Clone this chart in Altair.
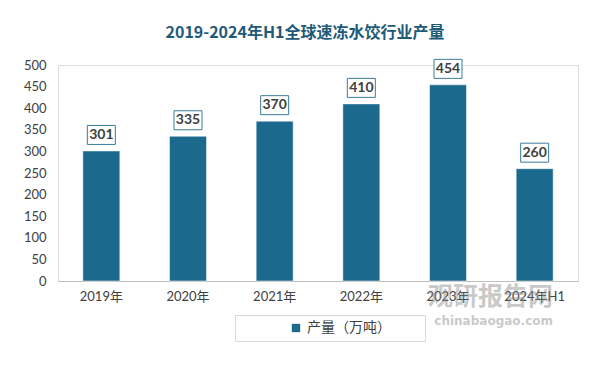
import altair as alt
import pandas as pd

years = ["2019年", "2020年", "2021年", "2022年", "2023年", "2024年H1"]
output = [301, 335, 370, 410, 454, 260]
series_name = "产量（万吨）"

df = pd.DataFrame({"year": years, "value": output, "series": [series_name] * len(years)})

BAR = "#1b6a8e"
FONT = "Lato, Noto Sans CJK SC, sans-serif"

x_axis = alt.Axis(labelAngle=0, labelFont=FONT, labelFontSize=13, labelColor="#404040",
                  labelPadding=9, ticks=False, domainColor="#bfbfbf", domainWidth=1,
                  labelOverlap=False)
y_axis = alt.Axis(values=list(range(0, 501, 50)), labelFont=FONT, labelFontSize=13,
                  labelColor="#404040", labelPadding=12, ticks=False, domain=False, grid=False,
                  labelOverlap=False)
x = alt.X("year:N", sort=years, title=None, axis=x_axis)
y = alt.Y("value:Q", title=None, scale=alt.Scale(domain=[0, 500]), axis=y_axis)

bars = alt.Chart(df).mark_bar(size=37, stroke="#ffffff", strokeWidth=0.5).encode(
    x=x, y=y,
    color=alt.Color("series:N",
                    scale=alt.Scale(domain=[series_name, "\u3000"], range=[BAR, "transparent"]),
                    legend=alt.Legend(title=None, orient="none", legendX=177, legendY=250,
                                      direction="horizontal", columnPadding=-38, gridAlign="none",
                                      symbolType="square", symbolSize=70, symbolStrokeWidth=0,
                                      labelFont=FONT, labelFontSize=14, labelColor="#404040",
                                      padding=6, symbolOffset=48,
                                      strokeColor="#d9d9d9", fillColor="#ffffff"))
)

boxes = alt.Chart(df).mark_rect(width=28, height=19, yOffset=-16, fill="#ffffff",
                                stroke="#3b7d9a", strokeWidth=1).encode(x=x, y=y)

labels = alt.Chart(df).mark_text(dy=-16, baseline="middle", fontWeight="bold", fontSize=14,
                                 font=FONT, color="#404040").encode(
    x=x, y=y, text="value:Q")

wm1 = alt.Chart(pd.DataFrame({"t": ["观研报告网"]})).mark_text(
    font="Noto Sans CJK SC", fontWeight="bold", fontSize=25, color="#8a8a8a", opacity=0.45,
    align="right", baseline="middle").encode(x=alt.value(495), y=alt.value(232), text="t:N")
wm2 = alt.Chart(pd.DataFrame({"t": ["chinabaogao.com"]})).mark_text(
    font="DejaVu Sans", fontWeight="bold", fontSize=12, color="#8a8a8a", opacity=0.45,
    align="right", baseline="middle").encode(x=alt.value(495), y=alt.value(256), text="t:N")

chart = alt.layer(bars, boxes, labels, wm1, wm2).properties(
    width=520, height=216,
    title=alt.TitleParams("2019-2024年H1全球速冻水饺行业产量", font="Noto Sans CJK SC",
                          fontSize=16, fontWeight="bold", color="#215a78", anchor="middle",
                          dx=-13, offset=18),
    autosize=alt.AutoSizeParams(type="none"),
    padding={"left": 50, "top": 57, "right": 11, "bottom": 70},
).configure_view(fill="#f3f3f3", stroke=None).configure(background="#ffffff")

chart.save("out.html", embed_options={"renderer": "svg", "actions": False})
